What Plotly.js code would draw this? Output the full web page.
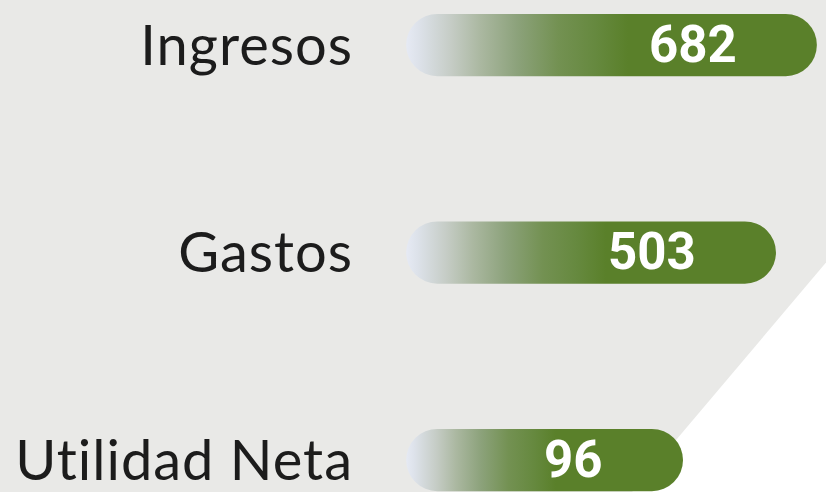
<!DOCTYPE html>
<html>
<head>
<meta charset="utf-8">
<script src="https://cdn.plot.ly/plotly-3.0.1.min.js"></script>
<style>
  html, body { margin: 0; padding: 0; background: #e9e9e7; }
  #chart { width: 826px; height: 492px; }
</style>
</head>
<body>
<div id="chart"></div>
<script>
// ---- data ----
const categories = ['Ingresos', 'Gastos', 'Utilidad Neta'];
const values = [682, 503, 96];

// ---- style constants ----
const LEAD = 1116;          // common off-scale origin for the pill bars
const GREEN = '#5a802a';

const gd = document.getElementById('chart');

const trace = {
  type: 'bar',
  orientation: 'h',
  y: categories,
  x: values.map(v => v + LEAD),
  base: -LEAD,
  width: 0.3,
  marker: { color: GREEN, line: { width: 0 } },
  hoverinfo: 'skip',
  showlegend: false
};

const annotations = categories.map((c, i) => ({
  x: values[i], xref: 'x',
  y: c, yref: 'y',
  text: String(values[i]),
  showarrow: false,
  xanchor: 'right',
  yanchor: 'middle',
  xshift: -78,
  yshift: 1,
  font: { family: 'Roboto, Lato, sans-serif', size: 51, color: '#ffffff', weight: 700 }
}));

const layout = {
  width: 826,
  height: 492,
  margin: { l: 400, r: 0, t: 0, b: 0, pad: 0 },
  paper_bgcolor: '#e9e9e7',
  plot_bgcolor: 'rgba(0,0,0,0)',
  font: { family: 'Lato, sans-serif', color: '#1c1c1c' },
  xaxis: {
    visible: false,
    range: [-1143, 722],
    fixedrange: true
  },
  yaxis: {
    type: 'category',
    categoryorder: 'array',
    categoryarray: categories,
    range: [2.154, -0.217],
    showgrid: false,
    zeroline: false,
    showline: false,
    ticks: '',
    ticklabelstandoff: 46,
    tickfont: { family: 'Lato, sans-serif', size: 56, color: '#1c1c1c' },
    automargin: false,
    fixedrange: true
  },
  shapes: [{
    type: 'path',
    xref: 'paper', yref: 'paper',
    path: 'M 1.01 0.4765 L 0.496 -0.05 L 1.05 -0.05 Z',
    fillcolor: '#ffffff',
    line: { width: 0 },
    layer: 'below'
  }],
  annotations: annotations,
  showlegend: false
};

Plotly.newPlot(gd, [trace], layout, { displayModeBar: false, staticPlot: true }).then(() => {
  const ns = 'http://www.w3.org/2000/svg';
  const svg = gd.querySelector('svg.main-svg');
  let defs = svg.querySelector('defs');
  if (!defs) { defs = document.createElementNS(ns, 'defs'); svg.insertBefore(defs, svg.firstChild); }
  const lg = document.createElementNS(ns, 'linearGradient');
  lg.setAttribute('id', 'barGrad');
  lg.setAttribute('x1', '0'); lg.setAttribute('y1', '0');
  lg.setAttribute('x2', '1'); lg.setAttribute('y2', '0');
  const stops = [
    [0.0, '#e6eaf4'],
    [0.03, '#dde2ea'],
    [0.11, '#c5ccc5'],
    [0.18, '#abb8a1'],
    [0.27, '#8ca27b'],
    [0.37, '#739152'],
    [0.46, '#66893f'],
    [0.54, GREEN],
    [1.0, GREEN]
  ];
  stops.forEach(([o, c]) => {
    const s = document.createElementNS(ns, 'stop');
    s.setAttribute('offset', o);
    s.setAttribute('stop-color', c);
    lg.appendChild(s);
  });
  defs.appendChild(lg);

  gd.querySelectorAll('.bars .point path').forEach(p => {
    const b = p.getBBox();
    const r = b.height / 2;
    const x0 = b.x, x1 = b.x + b.width, y0 = b.y, y1 = b.y + b.height;
    const d = `M${x0 + r},${y0} L${x1 - r},${y0} A${r},${r} 0 0 1 ${x1 - r},${y1} ` +
              `L${x0 + r},${y1} A${r},${r} 0 0 1 ${x0 + r},${y0} Z`;
    p.setAttribute('d', d);
    p.style.fill = 'url(#barGrad)';
  });

  // slightly wider tracking on the category labels
  gd.querySelectorAll('.yaxislayer-above .ytick text').forEach(t => {
    t.style.letterSpacing = '1px';
  });
});
</script>
</body>
</html>
